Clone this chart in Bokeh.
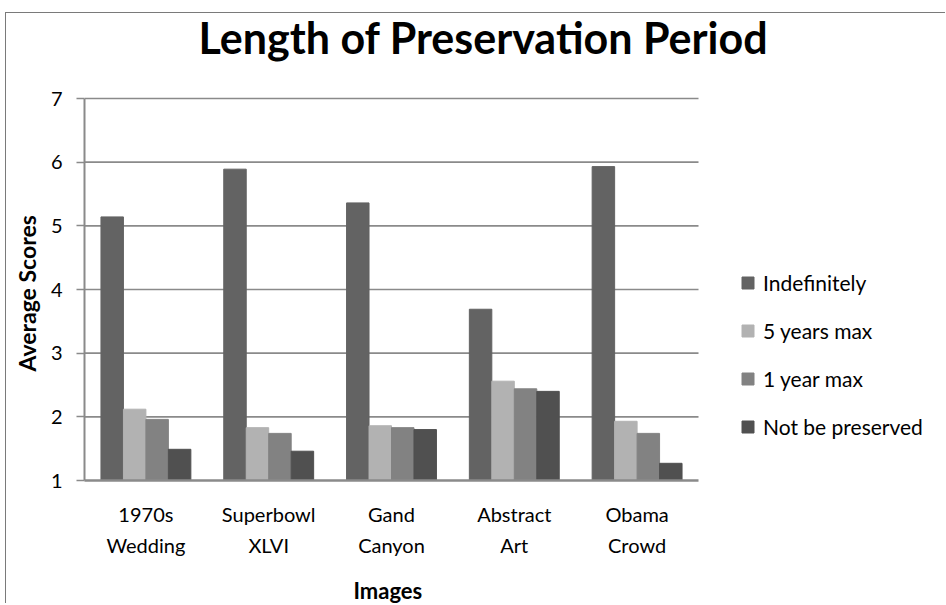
from bokeh.plotting import figure
from bokeh.models import ColumnDataSource, Range1d, Legend, LegendItem, FixedTicker, Label, Title
from bokeh.transform import dodge
from bokeh.embed import file_html
from bokeh.resources import INLINE

categories = ["1970s\nWedding", "Superbowl\nXLVI", "Gand\nCanyon", "Abstract\nArt", "Obama\nCrowd"]
indefinitely = [5.14, 5.89, 5.36, 3.69, 5.93]
five_years_max = [2.12, 1.83, 1.86, 2.56, 1.93]
one_year_max = [1.96, 1.74, 1.83, 2.44, 1.74]
not_preserved = [1.49, 1.46, 1.80, 2.40, 1.27]
series_names = ["Indefinitely", "5 years max", "1 year max", "Not be preserved"]
series_colors = ["#636363", "#b2b2b2", "#828282", "#505050"]
y_ticks = [1, 2, 3, 4, 5, 6, 7]

FONT = "Lato"
GRID = "#8a8a8a"

# layout (pixels)
W, H = 940, 591
BORDER_L, BORDER_B = 78, 124
FRAME_W, FRAME_H = W - BORDER_L, H - BORDER_B
PX_X = 122.8          # pixels per category
PX_Y = 382 / 6.0      # pixels per score unit
n = len(categories)
x_start = -0.5
x_end = x_start + FRAME_W / PX_X
y_start = y_ticks[0]
y_end = y_start + FRAME_H / PX_Y

xs = list(range(n))
source = ColumnDataSource(dict(x=xs, s0=indefinitely, s1=five_years_max,
                               s2=one_year_max, s3=not_preserved))

p = figure(x_range=Range1d(x_start, x_end), y_range=Range1d(y_start, y_end),
           width=W, height=H, output_backend="svg", toolbar_location=None,
           min_border_left=BORDER_L, min_border_right=0, min_border_top=0,
           min_border_bottom=BORDER_B)

p.outline_line_color = None
p.xgrid.grid_line_color = None
p.ygrid.grid_line_color = None

# horizontal gridlines only across the category area
p.segment(x0=[x_start] * (len(y_ticks) - 1), x1=[n - 0.5] * (len(y_ticks) - 1),
          y0=y_ticks[1:], y1=y_ticks[1:], line_color=GRID, line_width=1.6)

bw = 0.183
offsets = [-1.5 * bw, -0.5 * bw, 0.5 * bw, 1.5 * bw]
renderers = []
for i, col in enumerate(series_colors):
    r = p.vbar(x=dodge("x", offsets[i]), top="s%d" % i, bottom=y_start,
               width=bw, source=source, fill_color=col, line_color=col)
    renderers.append(r)

p.yaxis.ticker = FixedTicker(ticks=y_ticks)
p.yaxis.bounds = (y_ticks[0], y_ticks[-1])
p.yaxis.axis_line_color = GRID
p.yaxis.axis_line_width = 2
p.yaxis.major_tick_line_color = GRID
p.yaxis.major_tick_line_width = 1.6
p.yaxis.major_tick_out = 8
p.yaxis.major_tick_in = 0
p.yaxis.minor_tick_line_color = None
p.yaxis.major_label_text_font = FONT
p.yaxis.major_label_text_font_size = "20px"
p.yaxis.major_label_text_color = "#000000"
p.yaxis.major_label_standoff = 14

p.xaxis.ticker = FixedTicker(ticks=xs)
p.xaxis.major_label_overrides = {x: c for x, c in zip(xs, categories)}
p.xaxis.bounds = (x_start, n - 0.5)
p.xaxis.axis_line_color = GRID
p.xaxis.axis_line_width = 2.5
p.xaxis.major_tick_line_color = None
p.xaxis.minor_tick_line_color = None
p.xaxis.major_label_text_font = FONT
p.xaxis.major_label_text_font_size = "20px"
p.xaxis.major_label_text_color = "#000000"
p.xaxis.major_label_text_line_height = 1.3
p.xaxis.major_label_standoff = 15

# axis titles, positioned along the category / score area rather than the whole frame
y_title = Title(text="Average Scores", align="left", offset=109, vertical_align="top",
                standoff=10, text_font=FONT, text_font_size="23px", text_font_style="bold",
                text_color="#000000")
p.add_layout(y_title, "left")

spacer = Title(text=" ", text_font_size="1px", standoff=12)
p.add_layout(spacer, "below")
x_title = Title(text="Images", align="left", offset=269, standoff=0,
                text_font=FONT, text_font_size="22px", text_font_style="bold",
                text_color="#000000")
p.add_layout(x_title, "below")

title = Label(x=x_start + 399 / PX_X, y=y_start + 443 / PX_Y,
              text="Length of Preservation Period", text_font=FONT, text_font_size="43px",
              text_font_style="bold", text_color="#000000", text_align="center",
              text_baseline="alphabetic")
p.add_layout(title)

legend = Legend(items=[LegendItem(label=nm, renderers=[r]) for nm, r in zip(series_names, renderers)],
                location=(656, 41), border_line_color=None, background_fill_alpha=0,
                padding=0, margin=0, spacing=23, glyph_width=15, glyph_height=15,
                label_standoff=8, label_text_font=FONT, label_text_font_size="21px",
                label_text_color="#000000")
p.add_layout(legend, "center")

p.styles = {"border-top": "1.5px solid #7a7a7a", "border-left": "1.5px solid #7a7a7a"}
p.margin = (12, 0, 0, 5)

open("out.html", "w").write(file_html(p, INLINE))
